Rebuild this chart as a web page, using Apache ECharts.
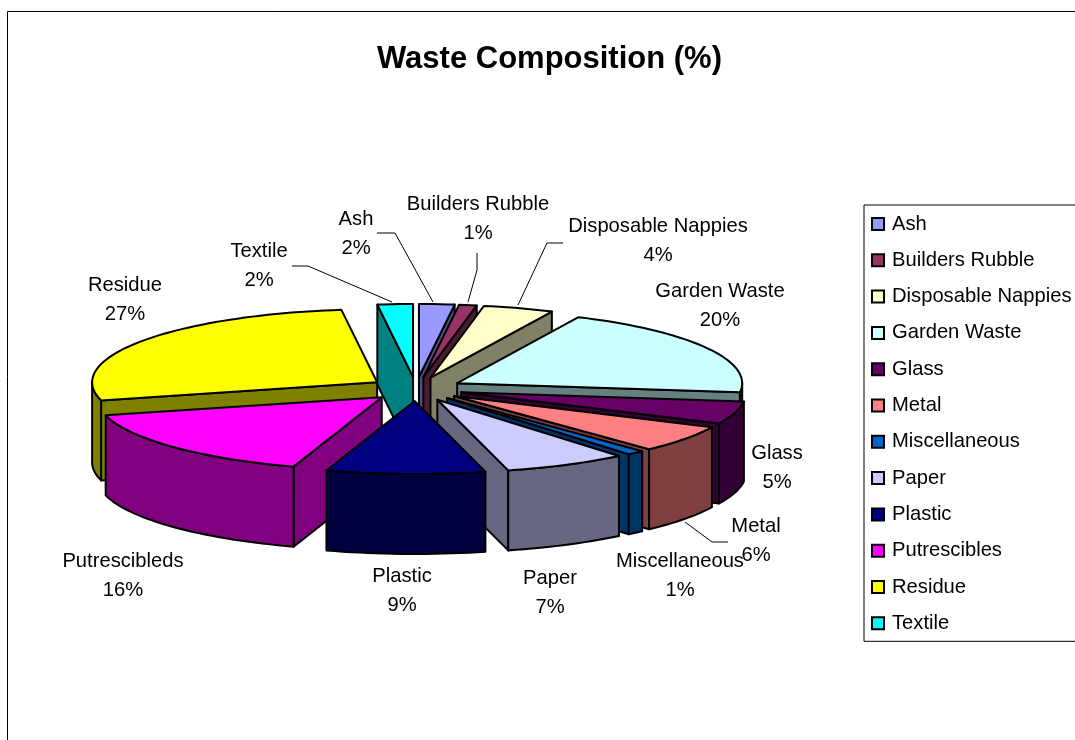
<!DOCTYPE html>
<html>
<head>
<meta charset="utf-8">
<title>Waste Composition</title>
<style>
  html, body { margin: 0; padding: 0; background: #fff; overflow: hidden; }
  #chart { width: 1075px; height: 740px; }
</style>
<script src="https://cdn.jsdelivr.net/npm/echarts@6/dist/echarts.min.js"></script>
</head>
<body>
<div id="chart"></div>
<script>
'use strict'

const categories = ['Ash', 'Builders Rubble', 'Disposable Nappies', 'Garden Waste', 'Glass', 'Metal', 'Miscellaneous', 'Paper', 'Plastic', 'Putrescibles', 'Residue', 'Textile']
const sliceLabels = ['Ash', 'Builders Rubble', 'Disposable Nappies', 'Garden Waste', 'Glass', 'Metal', 'Miscellaneous', 'Paper', 'Plastic', 'Putrescibleds', 'Residue', 'Textile']
const values = [2, 1, 4, 20, 5, 6, 1, 7, 9, 16, 27, 2]
const colors = ['#9999FF', '#993366', '#FFFFCC', '#CCFFFF', '#660066', '#FF8080', '#0066CC', '#CCCCFF', '#000080', '#FF00FF', '#FFFF00', '#00FFFF']

// label centres, one per slice
const labelX = [356, 478, 658, 720, 777, 756, 680, 550, 402, 123, 125, 259]
const labelY = [234, 219, 241, 306, 468, 541, 576, 593, 591, 576, 300, 266]

// leader lines, only where the label sits away from its slice
const leaders = {
  Ash: [[377, 233], [395, 233], [433, 302]],
  'Builders Rubble': [[477, 253], [477, 270], [468, 302]],
  'Disposable Nappies': [[563, 243], [547, 243], [518, 305]],
  Metal: [[728, 542], [712, 542], [685, 522]],
  Textile: [[292, 266], [308, 266], [392, 302]]
}

// projection of the tilted pie
const CX = 416
const CY = 389
const RX = 285
const RY = 73
const DEPTH = 80
const EXPLODE_X = 47
const EXPLODE_Y = 12
const EDGE = 2
const FONT = '"Liberation Sans", Arial, sans-serif'

const total = values.reduce((a, b) => a + b, 0)

function darken (hex) {
  const n = parseInt(hex.slice(1), 16)
  const half = v => Math.round(v / 2)
  return `rgb(${half(n >> 16)},${half((n >> 8) & 255)},${half(n & 255)})`
}

// angles run clockwise from 12 o'clock
let running = 0
const slices = values.map((v, i) => {
  const start = running / total * Math.PI * 2
  running += v
  const end = running / total * Math.PI * 2
  return { i, start, end, mid: (start + end) / 2 }
})

const drawRank = slices.slice().sort((a, b) => Math.cos(b.mid) - Math.cos(a.mid)).map(s => s.i)

function arcPoints (ax, ay, from, to) {
  const steps = Math.max(2, Math.ceil((to - from) / 0.03))
  const pts = []
  for (let k = 0; k <= steps; k++) {
    const t = from + (to - from) * k / steps
    pts.push([ax + RX * Math.sin(t), ay - RY * Math.cos(t)])
  }
  return pts
}

function face (points, fill, z2) {
  return {
    type: 'polygon',
    z2,
    shape: { points },
    style: { fill, stroke: '#000', lineWidth: EDGE, lineJoin: 'round' }
  }
}

function renderSlice (i) {
  return function (params, api) {
    const s = slices[i]
    const ax = CX + EXPLODE_X * Math.sin(s.mid)
    const ay = CY - EXPLODE_Y * Math.cos(s.mid)
    const side = darken(colors[i])
    const children = []

    // cut walls facing the viewer
    if (Math.sin(s.start) < 0) {
      const px = ax + RX * Math.sin(s.start)
      const py = ay - RY * Math.cos(s.start)
      children.push(face([[ax, ay], [px, py], [px, py + DEPTH], [ax, ay + DEPTH]], side, 1))
    }
    if (Math.sin(s.end) > 0) {
      const px = ax + RX * Math.sin(s.end)
      const py = ay - RY * Math.cos(s.end)
      children.push(face([[ax, ay], [px, py], [px, py + DEPTH], [ax, ay + DEPTH]], side, 1))
    }

    // outer rim, front half of the ellipse only
    const from = Math.max(s.start, Math.PI / 2)
    const to = Math.min(s.end, Math.PI * 1.5)
    if (to > from) {
      const rim = arcPoints(ax, ay, from, to)
      const lower = rim.slice().reverse().map(p => [p[0], p[1] + DEPTH])
      children.push(face(rim.concat(lower), side, 2))
    }

    // top
    children.push(face([[ax, ay]].concat(arcPoints(ax, ay, s.start, s.end)), colors[i], 3))

    const leader = leaders[categories[i]]
    if (leader) {
      children.push({
        type: 'polyline',
        z2: 4,
        shape: { points: leader },
        style: { fill: null, stroke: '#000', lineWidth: 1 }
      })
    }

    children.push({
      type: 'text',
      z2: 5,
      x: labelX[i],
      y: labelY[i],
      style: {
        text: `${sliceLabels[i]}\n${api.value(0)}%`,
        align: 'center',
        verticalAlign: 'middle',
        font: `20.2px ${FONT}`,
        lineHeight: 29,
        fill: '#000'
      }
    })

    return { type: 'group', children }
  }
}

const chart = echarts.init(document.getElementById('chart'), null, { renderer: 'canvas' })

chart.setOption({
  animation: false,
  backgroundColor: '#fff',
  tooltip: { show: false },
  title: {
    text: 'Waste Composition (%)',
    left: 544.5,
    top: 39,
    textAlign: 'center',
    textStyle: { fontFamily: FONT, fontSize: 31, fontWeight: 'bold', color: '#000' }
  },
  legend: {
    orient: 'vertical',
    left: 864,
    top: 205,
    data: categories,
    icon: 'rect',
    itemWidth: 12,
    itemHeight: 12,
    itemGap: 16.3,
    padding: [9, 20, 8, 7],
    borderColor: '#000',
    borderWidth: 1,
    selectedMode: false,
    itemStyle: { borderColor: '#000', borderWidth: 2 },
    textStyle: { fontFamily: FONT, fontSize: 20.2, color: '#000', padding: [0, 0, 0, 3] }
  },
  graphic: [{
    type: 'rect',
    silent: true,
    shape: { x: 7.5, y: 11.5, width: 1100, height: 760 },
    style: { fill: null, stroke: '#000', lineWidth: 1 }
  }],
  series: categories.map((name, i) => ({
    type: 'custom',
    name,
    coordinateSystem: 'none',
    silent: true,
    z: 2 + drawRank.indexOf(i),
    itemStyle: { color: colors[i] },
    renderItem: renderSlice(i),
    data: [values[i]]
  }))
})
</script>
</body>
</html>
